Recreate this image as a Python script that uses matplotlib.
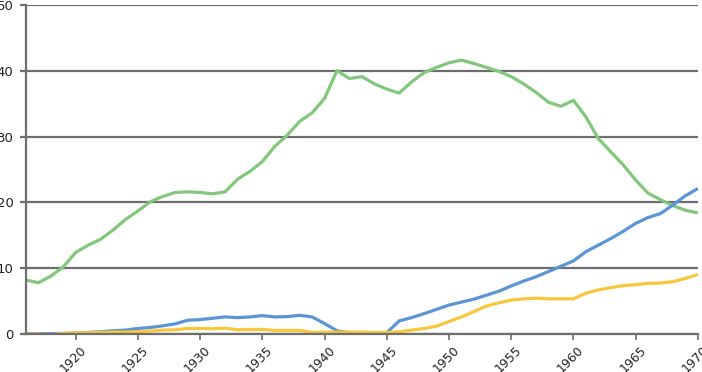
import numpy as np
import matplotlib.pyplot as plt
from matplotlib.transforms import ScaledTranslation

years = list(range(1916, 1971))

green = [8.2, 7.8, 8.8, 10.2, 12.4, 13.5, 14.4, 15.8, 17.4, 18.7,
         20.1, 20.9, 21.5, 21.6, 21.5, 21.3, 21.6, 23.5, 24.7, 26.2,
         28.5, 30.2, 32.3, 33.6, 35.8, 40.0, 38.8, 39.1, 38.0, 37.2,
         36.6, 38.3, 39.7, 40.5, 41.2, 41.6, 41.1, 40.5, 39.9, 39.1,
         38.0, 36.7, 35.2, 34.6, 35.5, 33.0, 29.7, 27.7, 25.7, 23.4,
         21.4, 20.4, 19.5, 18.8, 18.4]

blue = [0.05, 0.05, 0.05, 0.1, 0.15, 0.25, 0.35, 0.5, 0.6, 0.85,
        1.0, 1.25, 1.55, 2.1, 2.2, 2.4, 2.6, 2.5, 2.6, 2.8,
        2.6, 2.65, 2.85, 2.6, 1.6, 0.5, 0.2, 0.2, 0.2, 0.2,
        2.0, 2.5, 3.1, 3.75, 4.4, 4.85, 5.3, 5.9, 6.5, 7.3,
        8.05, 8.7, 9.5, 10.3, 11.1, 12.5, 13.5, 14.5, 15.6, 16.8,
        17.7, 18.3, 19.6, 21.0, 22.1]

yellow = [0.0, 0.0, -0.1, 0.1, 0.2, 0.2, 0.25, 0.3, 0.3, 0.35,
          0.45, 0.6, 0.65, 0.85, 0.85, 0.8, 0.9, 0.65, 0.7, 0.7,
          0.55, 0.55, 0.55, 0.25, 0.3, 0.3, 0.3, 0.3, 0.25, 0.25,
          0.35, 0.6, 0.85, 1.2, 1.9, 2.6, 3.4, 4.25, 4.75, 5.15,
          5.35, 5.45, 5.35, 5.35, 5.35, 6.2, 6.7, 7.05, 7.35, 7.5,
          7.7, 7.75, 7.95, 8.45, 9.05]

fig = plt.figure(figsize=(7.02, 3.72), dpi=100)
ax = fig.add_axes([0.037, 0.102, 0.957, 0.885])

grid_col = '#6e6e6e'
ax.plot(years, green, color='#82c77c', lw=2.3, solid_capstyle='butt')
ax.plot(years, blue, color='#5b95d5', lw=2.3, solid_capstyle='butt')
ax.plot(years, yellow, color='#f7c73c', lw=2.3, solid_capstyle='butt')

ax.set_xlim(1916, 1970)
ax.set_ylim(0, 50)
ax.set_yticks(range(0, 51, 10))
ax.set_xticks(range(1920, 1971, 5))
ax.yaxis.grid(True, color=grid_col, lw=1.6)
ax.set_axisbelow(True)

for s in ['top', 'right']:
    ax.spines[s].set_visible(False)
ax.spines['left'].set_color(grid_col)
ax.spines['left'].set_linewidth(1.6)
ax.spines['bottom'].set_color(grid_col)
ax.spines['bottom'].set_linewidth(1.6)

ax.tick_params(axis='y', length=4, width=1.6, color=grid_col, pad=5,
               labelsize=9.5, labelcolor='#222222')
ax.tick_params(axis='x', length=4, width=1.2, color=grid_col, pad=2,
               labelsize=9, labelcolor='#222222')

# nudge rotated year labels a little to the right
shift = ScaledTranslation(4 / 100, -1 / 100, fig.dpi_scale_trans)
for lab in ax.get_xticklabels():
    lab.set_rotation(45)
    lab.set_ha('right')
    lab.set_rotation_mode('anchor')
    lab.set_transform(lab.get_transform() + shift)

fig.savefig('out.png', dpi=100)
